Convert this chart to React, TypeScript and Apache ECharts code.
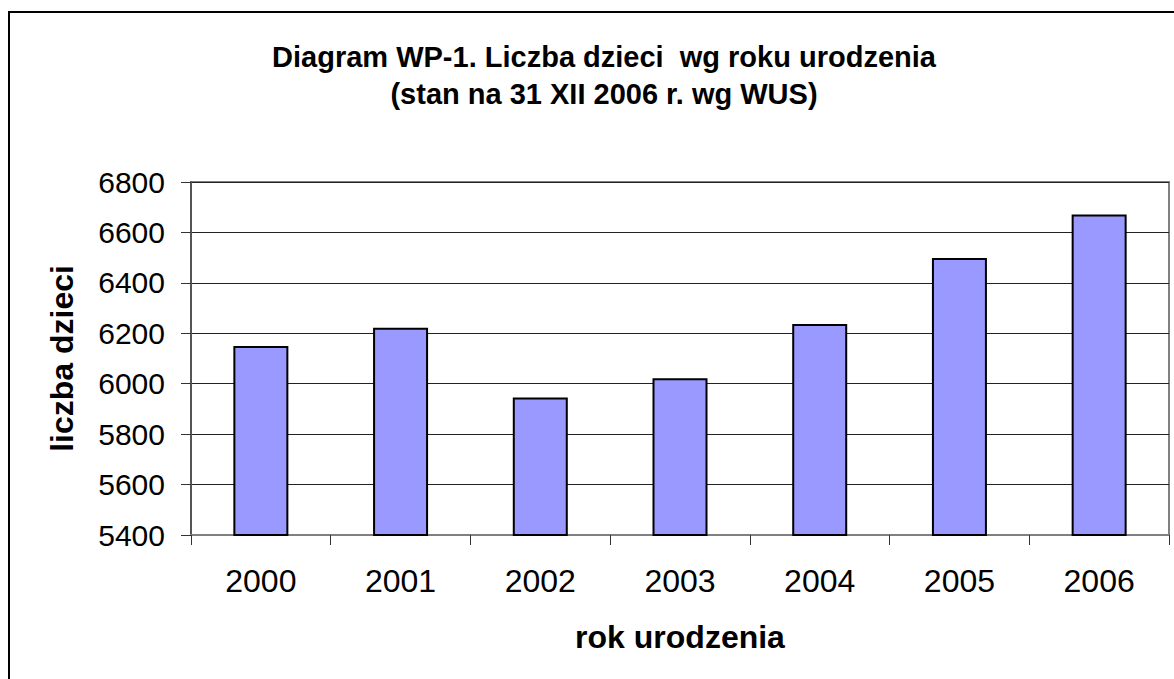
import React, { useEffect, useRef } from "react";
import * as echarts from "echarts";

const titleText = "Diagram WP-1. Liczba dzieci  wg roku urodzenia\n(stan na 31 XII 2006 r. wg WUS)";
const years = ["2000", "2001", "2002", "2003", "2004", "2005", "2006"];
const children = [6150, 6222, 5945, 6022, 6237, 6499, 6671];
const yMin = 5400;
const yMax = 6800;
const yStep = 200;
const xAxisTitle = "rok urodzenia";
const yAxisTitle = "liczba dzieci";

const FONT = "'Liberation Sans', Arial, Helvetica, sans-serif";

export default function App() {
  const ref = useRef<HTMLDivElement>(null);
  useEffect(() => {
    if (!ref.current) return;
    const chart = echarts.init(ref.current, undefined, { renderer: "svg" });
    chart.setOption({
      animation: false,
      backgroundColor: "#ffffff",
      textStyle: { fontFamily: FONT },
      title: {
        text: titleText,
        left: 599,
        top: 33,
        textAlign: "center",
        textStyle: {
          fontFamily: FONT,
          fontSize: 29,
          fontWeight: "bold",
          color: "#000",
          lineHeight: 37,
        },
      },
      graphic: [
        {
          type: "rect",
          shape: { x: 9, y: 12, width: 1300, height: 800 },
          style: { fill: "none", stroke: "#000", lineWidth: 2 },
          silent: true,
          z: -1,
        },
      ],
      grid: {
        left: 191,
        right: 5,
        top: 182,
        bottom: 144,
        show: true,
        borderColor: "#808080",
        borderWidth: 2,
        containLabel: false,
      },
      xAxis: {
        type: "category",
        data: years,
        name: xAxisTitle,
        nameLocation: "middle",
        nameGap: 86,
        nameTextStyle: { fontFamily: FONT, fontSize: 32, fontWeight: "bold", color: "#000" },
        axisLine: { show: true, lineStyle: { color: "#808080", width: 2 } },
        axisTick: { show: true, length: 10, lineStyle: { color: "#333", width: 1 } },
        axisLabel: { fontFamily: FONT, fontSize: 32, color: "#000", margin: 30 },
        splitLine: { show: false },
      },
      yAxis: {
        type: "value",
        min: yMin,
        max: yMax,
        interval: yStep,
        name: yAxisTitle,
        nameLocation: "middle",
        nameRotate: 90,
        nameGap: 113,
        nameTextStyle: { fontFamily: FONT, fontSize: 32, fontWeight: "bold", color: "#000" },
        axisLine: { show: true, lineStyle: { color: "#555", width: 2 } },
        axisTick: { show: true, length: 10, lineStyle: { color: "#333", width: 1 } },
        axisLabel: {
          fontFamily: FONT,
          fontSize: 30,
          color: "#000",
          margin: 26,
          formatter: (v: number) => String(v),
        },
        splitLine: { show: true, lineStyle: { color: "#222", width: 1 } },
      },
      series: [
        {
          type: "bar",
          data: children,
          barWidth: 55,
          itemStyle: { color: "#9999FF", borderColor: "#000", borderWidth: 2 },
        },
      ],
    });
    return () => chart.dispose();
  }, []);
  return (
    <div
      ref={ref}
      style={{ position: "fixed", left: 0, top: 0, width: 1174, height: 679, background: "#fff" }}
    />
  );
}
